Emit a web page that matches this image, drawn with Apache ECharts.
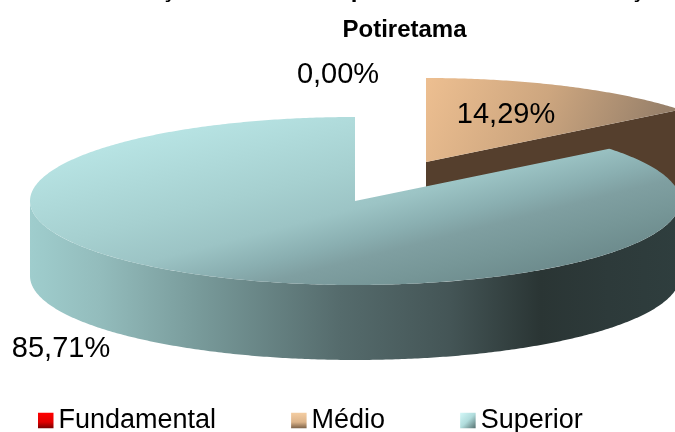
<!DOCTYPE html>
<html><head><meta charset="utf-8">
<style>html,body{margin:0;padding:0;background:#fff}#c{width:675px;height:432px}</style>
<script src="https://cdn.jsdelivr.net/npm/echarts@6/dist/echarts.min.js"></script>
</head><body><div id="c"></div>
<script>
const categories = ['Fundamental', 'Médio', 'Superior'];
const values = [0, 14.29, 85.71];
const titleLine = 'Potiretama';
const clippedTitleMarks = ['ç', 'p', 'ç'];

const FONT = '"Liberation Sans", Arial, sans-serif';
const TAU = Math.PI * 2;
const RX = 325, RY = 84, DEPTH = 75;
const CENTER = [355, 201];
const OFFSETS = { 'Médio': [71, -39] };
const LABEL_POS = { 'Fundamental': [338, 75], 'Médio': [506, 115], 'Superior': [61, 349] };
const total = values.reduce((a, b) => a + b, 0);

function lin(x, y, x2, y2, stops, global) {
  return { type: 'linear', x, y, x2, y2, global: !!global,
    colorStops: stops.map(s => ({ offset: s[0], color: s[1] })) };
}
const legendFill = {
  'Fundamental': lin(0, 0, 0, 1, [[0, '#ff0000'], [0.6, '#e00000'], [1, '#7a0000']]),
  'Médio': lin(0, 0, 0, 1, [[0, '#f4cda2'], [0.6, '#dcb48a'], [1, '#7d6248']]),
  'Superior': lin(0, 0, 1, 1, [[0, '#d4f8f8'], [0.5, '#b0dcdc'], [1, '#55706f']])
};
const topFill = {
  'Fundamental': '#e00000',
  'Médio': lin(430, 80, 640, 170, [[0, '#ecbe90'], [0.5, '#cda67f'], [1, '#97806a']], true),
  'Superior': lin(100, 150, 162, 392, [[0, '#b7e3e3'], [0.32, '#a6d0d0'], [0.48, '#9cc4c5'], [0.6, '#8aafb1'], [0.68, '#7f9fa1'], [0.8, '#769697'], [1, '#668385']], true)
};
const wallFill = {
  'Fundamental': '#700000',
  'Médio': '#553f2d',
  'Superior': lin(0, 0, 1, 0, [[0, '#9fcdcd'], [0.108, '#93bcbc'], [0.26, '#789a9a'], [0.477, '#556b6c'], [0.646, '#445556'], [0.785, '#2a3534'], [0.89, '#2d3a3a'], [1, '#2f3e3e']])
};

function rim(cx, cy, a0, a1, dy) {
  const pts = [];
  const n = Math.max(2, Math.ceil(Math.abs(a1 - a0) / 0.01));
  for (let i = 0; i <= n; i++) {
    const a = a0 + (a1 - a0) * i / n;
    pts.push([cx + RX * Math.sin(a), cy - RY * Math.cos(a) + dy]);
  }
  return pts;
}

function sliceGraphics(idx) {
  const name = categories[idx];
  let before = 0;
  for (let i = 0; i < idx; i++) before += values[i];
  const a0 = before / total * TAU, a1 = (before + values[idx]) / total * TAU;
  const off = OFFSETS[name] || [0, 0];
  const cx = CENTER[0] + off[0], cy = CENTER[1] + off[1];
  const children = [];
  if (values[idx] > 0) {
    if (a1 < Math.PI) {
      const e = rim(cx, cy, a1, a1, 0)[0];
      children.push({ type: 'polygon', shape: { points: [[cx, cy], e, [e[0], e[1] + DEPTH], [cx, cy + DEPTH]] },
        style: { fill: wallFill[name] } });
    }
    const w0 = Math.max(a0, Math.PI / 2), w1 = Math.min(a1, Math.PI * 1.5);
    if (w1 > w0) {
      const upper = rim(cx, cy, w0, w1, 0);
      const lower = rim(cx, cy, w1, w0, DEPTH);
      children.push({ type: 'polygon', shape: { points: upper.concat(lower) }, style: { fill: wallFill[name] } });
    }
    children.push({ type: 'polygon', shape: { points: [[cx, cy]].concat(rim(cx, cy, a0, a1, 0)) },
      style: { fill: topFill[name] } });
  }
  const lp = LABEL_POS[name];
  children.push({ type: 'text', x: lp[0], y: lp[1], z2: 50,
    style: { text: values[idx].toFixed(2).replace('.', ',') + '%', x: 0, y: 0, align: 'center', verticalAlign: 'middle',
      font: '29px ' + FONT, fill: '#000' } });
  return { type: 'group', children };
}

const chart = echarts.init(document.getElementById('c'), null, { renderer: 'canvas' });
const markX = [168, 358, 637];
chart.setOption({
  animation: false,
  backgroundColor: '#fff',
  title: { text: titleLine, left: 399.5, top: 13, textAlign: 'center',
    textStyle: { fontFamily: FONT, fontWeight: 'bold', fontSize: 24, color: '#000' } },
  legend: {
    left: 38, top: 407, itemWidth: 15.5, itemHeight: 15.5, itemGap: 75, padding: 0,
    icon: 'rect', selectedMode: false,
    textStyle: { fontFamily: FONT, fontSize: 27, color: '#000', padding: [0, 0, 0, 0] },
    data: categories.map(c => ({ name: c, icon: 'rect', itemStyle: { color: legendFill[c] } }))
  },
  graphic: clippedTitleMarks.map((m, i) => ({
    type: 'text', x: markX[i], y: -22,
    style: { text: m, align: 'center', verticalAlign: 'top', font: 'bold 24px ' + FONT, fill: '#000' }
  })),
  series: categories.map((c, i) => ({
    name: c, type: 'custom', coordinateSystem: 'none', silent: true,
    itemStyle: { color: legendFill[c] },
    data: [[values[i]]],
    renderItem: () => sliceGraphics(i)
  }))
});
</script></body></html>
